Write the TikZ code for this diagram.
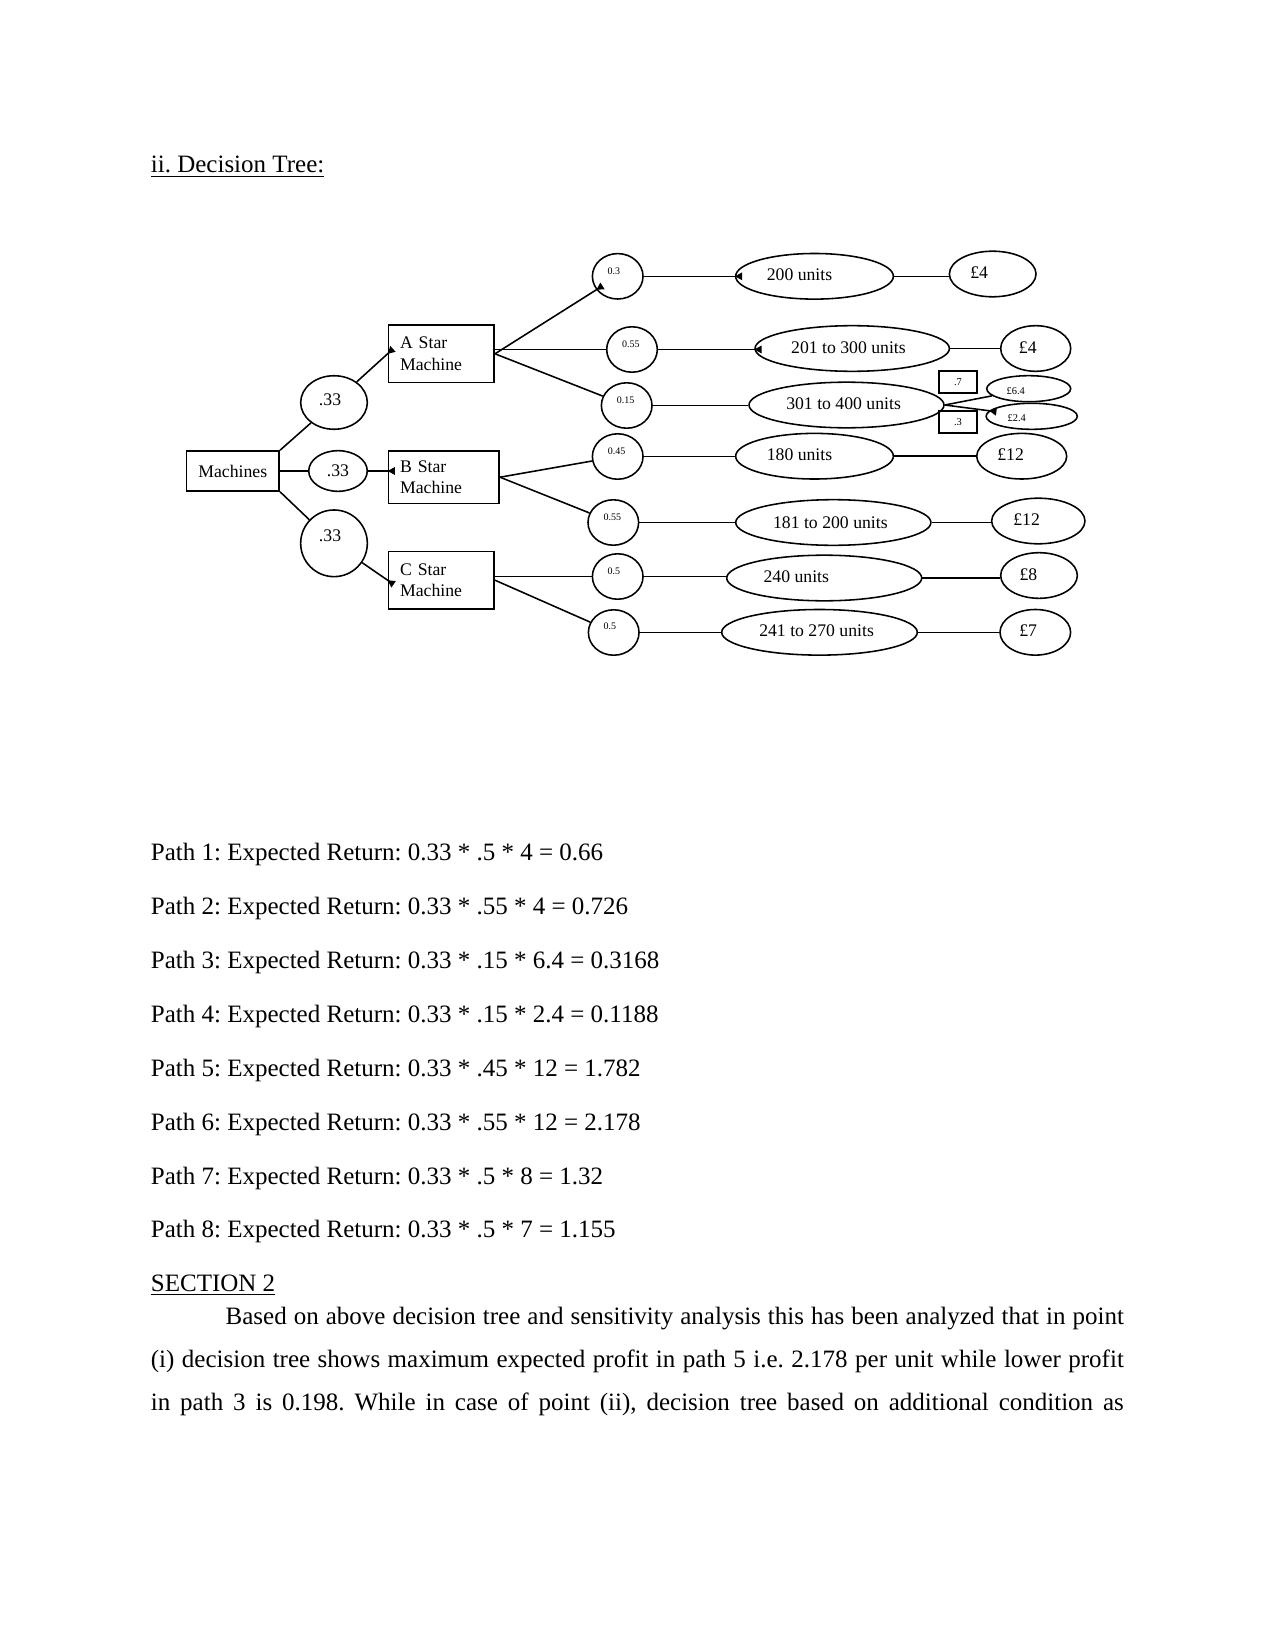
\documentclass[tikz,border=0pt]{standalone}
\usepackage{fontspec}
\setmainfont{Liberation Serif}
\usepackage{tikz}
\usetikzlibrary{arrows.meta,shapes.geometric}
\tikzset{
  bodytxt/.style={anchor=base west, inner sep=0pt,
                  font=\fontsize{12}{14}\selectfont\frenchspacing},
  ln/.style     ={line width=0.75pt},
  arr/.style    ={ln, -{Triangle[reversed, length=3.5pt, width=3.6pt]},
                  shorten >=-3.5pt},
  namebox/.style={draw, ln, minimum width=44.6pt, minimum height=19.2pt,
                  inner sep=0pt, font=\fontsize{8.5}{10.2}\selectfont},
  machbox/.style={draw, ln, align=left, text width=#1, inner xsep=5.6pt,
                  inner ysep=0pt, font=\fontsize{8.5}{10.2}\selectfont},
  machbox/.default=39.6pt,
  sbox/.style   ={draw, ln, minimum width=18pt, minimum height=10.8pt,
                  inner sep=0pt, font=\fontsize{5}{6}\selectfont},
  ell/.style    ={draw, ellipse, ln, inner sep=0pt},
  probell/.style={ell, minimum width=24.3pt, minimum height=21.8pt},
  outell/.style ={ell, minimum width=#1, minimum height=21.9pt},
  outell/.default=93.6pt,
  tinyell/.style={ell, minimum width=#1, minimum height=12.5pt},
  lab/.style    ={inner sep=0pt, font=\fontsize{8.5}{10.2}\selectfont},
  plab/.style   ={inner sep=0pt, font=\fontsize{4.8}{6}\selectfont},
  slab/.style   ={inner sep=0pt, font=\fontsize{5}{6}\selectfont},
}

\begin{document}
\begin{tikzpicture}[x=0.48pt, y=-0.48pt]
  \useasboundingbox (0,0) rectangle (1275,1651);

  \node[bodytxt] (title) at (150.5,173) {\underline{ii. Decision Tree:}};

  % first level
  \node[namebox] (mach) at (232.8,471) {Machines};
  \node[ell, minimum width=32pt, minimum height=25.7pt,
        label={[lab, xshift=-1.9pt, yshift=1.4pt]center:.33}] (pA) at (334,402.5) {};
  \node[ell, minimum width=28.1pt, minimum height=19.5pt,
        label={[lab]center:.33}] (pB) at (338,471) {};
  \node[ell, minimum width=32pt, minimum height=32pt,
        label={[lab, xshift=-1.9pt, yshift=3.8pt]center:.33}] (pC) at (334,543.3) {};
  \node[machbox, minimum height=27.4pt] (boxA) at (441.3,353.8) {A Star\\Machine};
  \node[machbox=42pt, minimum height=25.1pt] (boxB) at (443.8,477.2) {B Star\\Machine};
  \node[machbox, minimum height=27.7pt] (boxC) at (441.3,580.2) {C Star\\Machine};

  % probabilities
  \node[probell, label={[plab, xshift=-1.9pt, yshift=2.6pt]center:0.3}]  (c03)  at (617.7,276.3) {};
  \node[probell, label={[plab, xshift=-0.5pt, yshift=2.4pt]center:0.55}] (c055a) at (632,349.5) {};
  \node[probell, label={[plab, xshift=-0.5pt, yshift=2.3pt]center:0.15}] (c015) at (626.7,405.5) {};
  \node[probell, label={[plab, xshift=-0.5pt, yshift=2.4pt]center:0.45}] (c045) at (617.7,456.5) {};
  \node[probell, label={[plab, xshift=-0.5pt, yshift=2.4pt]center:0.55}] (c055b) at (613.3,522.5) {};
  \node[probell, label={[plab, xshift=-1.9pt, yshift=2.4pt]center:0.5}]  (c05a) at (617.7,576.5) {};
  \node[probell, label={[plab, xshift=-1.9pt, yshift=2.9pt]center:0.5}]  (c05b) at (613.7,632.5) {};

  % demand
  \node[outell=75.7pt, label={[lab, xshift=-7.2pt, yshift=0.6pt]center:200 units}] (u200) at (814.5,276.3) {};
  \node[outell=93.3pt, label={[lab, xshift=-1.8pt, yshift=0.5pt]center:201 to 300 units}] (u201) at (852.2,348.5) {};
  \node[outell, label={[lab, xshift=-1.4pt, yshift=0.5pt]center:301 to 400 units}] (u301) at (846.5,405) {};
  \node[outell=75.7pt, label={[lab, xshift=-7.2pt, yshift=0.5pt]center:180 units}] (u180) at (814.5,456.2) {};
  \node[outell=93.7pt, label={[lab, xshift=-1.4pt]center:181 to 200 units}] (u181) at (833.3,522.5) {};
  \node[outell, label={[lab, xshift=-13.4pt, yshift=0.8pt]center:240 units}] (u240) at (824.2,578) {};
  \node[outell=93.9pt, label={[lab, xshift=-1.4pt, yshift=0.6pt]center:241 to 270 units}] (u241) at (819.5,632.3) {};

  % returns
  \node[outell=41.6pt, label={[lab, xshift=-6.5pt, yshift=0.5pt]center:£4}]  (v1) at (992.7,274) {};
  \node[outell=33.6pt, label={[lab, xshift=-3.8pt, yshift=0.5pt]center:£4}]  (v2) at (1035.7,348.5) {};
  \node[tinyell=40.3pt, label={[slab, xshift=-6.2pt, yshift=-1pt]center:£6.4}] (v3) at (1028.7,388.7) {};
  \node[tinyell=43.8pt, label={[slab, xshift=-7.2pt, yshift=-0.7pt]center:£2.4}] (v4) at (1031.7,416.3) {};
  \node[outell=43.2pt, label={[lab, xshift=-5.3pt, yshift=0.8pt]center:£12}] (v5) at (1021.7,456.2) {};
  \node[outell=44.8pt, label={[lab, xshift=-5.6pt, yshift=0.7pt]center:£12}] (v6) at (1038.3,521) {};
  \node[outell=36.8pt, label={[lab, xshift=-5.1pt, yshift=0.3pt]center:£8}]  (v7) at (1039,575.5) {};
  \node[outell=33.9pt, label={[lab, xshift=-3.4pt, yshift=0.7pt]center:£7}]  (v8) at (1035.3,632.3) {};
  \node[sbox] (k7) at (958,382) {.7};
  \node[sbox] (k3) at (958,422) {.3};

  \draw[arr] (mach.north east) -- (pA) -- (boxA.west);
  \draw[arr] (mach.east) -- (pB) -- (pB.east -| boxB.west);
  \draw[arr] (mach.south east) -- (pC) -- (boxC.west);
  \draw[arr] (boxA.east) -- (c03);
  \draw[ln] (c055a.west -| boxA.east) -- (c055a.west);
  \draw[ln] (boxA.east) -- (c015);
  \draw[ln] (boxB.east) -- (c045);
  \draw[ln] (boxB.east) -- (c055b);
  \draw[ln] (c05a.west -| boxC.east) -- (c05a.west);
  \draw[ln] (boxC.east) -- (c05b);
  \draw[arr] (c03.east) -- (c03.east -| u200.west);
  \draw[arr] (c055a.east) -- (c055a.east -| u201.west);
  \draw[ln] (c015.east) -- (c015.east -| u301.west);
  \draw[ln] (c045.east) -- (c045.east -| u180.west);
  \draw[ln] (c055b.east) -- (c055b.east -| u181.west);
  \draw[ln] (c05a.east) -- (c05a.east -| u240.west);
  \draw[ln] (c05b.east) -- (c05b.east -| u241.west);
  \draw[ln] (u200.east) -- (u200.east -| v1.west);
  \draw[ln] (u201.east) -- (u201.east -| v2.west);
  \draw[ln] (u301.east) -- (v3);
  \draw[arr] (u301.east) -- (v4);
  \draw[ln] (u180.east) -- (u180.east -| v5.west);
  \draw[ln] (u181.east) -- (u181.east -| v6.west);
  \draw[ln] (u240.east) -- (u240.east -| v7.west);
  \draw[ln] (u241.east) -- (u241.east -| v8.west);

  % expected returns
  \node[bodytxt] (path1) at (150.5,860.7)  {Path 1: Expected Return: 0.33 * .5 * 4 = 0.66};
  \node[bodytxt] (path2) at (150.5,914.3)  {Path 2: Expected Return: 0.33 * .55 * 4 = 0.726};
  \node[bodytxt] (path3) at (150.5,968.3)  {Path 3: Expected Return: 0.33 * .15 * 6.4 = 0.3168};
  \node[bodytxt] (path4) at (150.5,1022.3) {Path 4: Expected Return: 0.33 * .15 * 2.4 = 0.1188};
  \node[bodytxt] (path5) at (150.5,1076)   {Path 5: Expected Return: 0.33 * .45 * 12 = 1.782};
  \node[bodytxt] (path6) at (150.5,1130)   {Path 6: Expected Return: 0.33 * .55 * 12 = 2.178};
  \node[bodytxt] (path7) at (150.5,1184)   {Path 7: Expected Return: 0.33 * .5 * 8 = 1.32};
  \node[bodytxt] (path8) at (150.5,1237.7) {Path 8: Expected Return: 0.33 * .5 * 7 = 1.155};

  \node[bodytxt] (sec2) at (150.5,1291.7) {\underline{SECTION 2}};
  \node[bodytxt] (par1) at (225.3,1324.5) {\makebox[431.1pt][s]{Based on above decision tree and sensitivity analysis this has been analyzed that in point}};
  \node[bodytxt] (par2) at (150.5,1367.5) {\makebox[467pt][s]{(i) decision tree shows maximum expected profit in path 5 i.e. 2.178 per unit while lower profit}};
  \node[bodytxt] (par3) at (150.5,1410.5) {\makebox[467pt][s]{in path 3 is 0.198. While in case of point (ii), decision tree based on additional condition as}};
\end{tikzpicture}
\end{document}
